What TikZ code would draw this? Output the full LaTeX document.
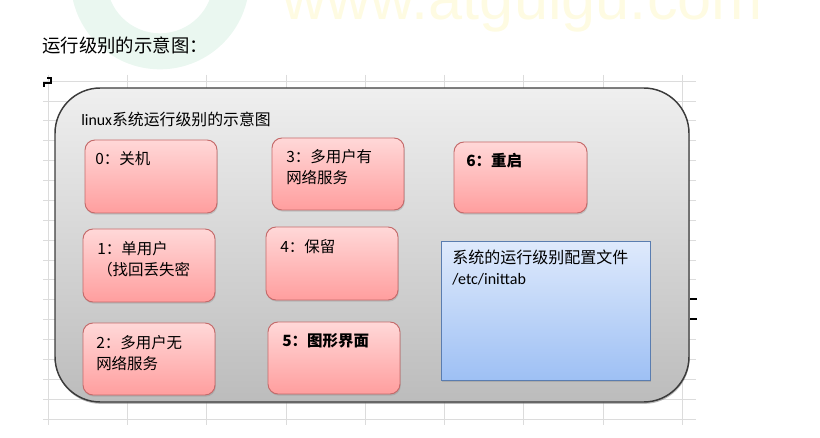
\documentclass[tikz,border=0pt]{standalone}
\usepackage{fontspec}
\setmainfont{Carlito}
\newfontfamily\cjk{Noto Sans CJK SC}
\newfontfamily\wmfont{Liberation Sans}
\usetikzlibrary{shadows,fit}
\definecolor{gridc}{HTML}{DCDCDC}
\definecolor{outerTop}{HTML}{EFEFEF}
\definecolor{outerBot}{HTML}{BCBCBC}
\definecolor{outerLine}{HTML}{3C3C3C}
\definecolor{pinkTop}{HTML}{FFD8D8}
\definecolor{pinkBot}{HTML}{FF9E9E}
\definecolor{pinkLine}{HTML}{C46A6A}
\definecolor{blueTop}{HTML}{DFEAFC}
\definecolor{blueBot}{HTML}{9EC0F4}
\definecolor{blueLine}{HTML}{5A7DB0}
\definecolor{wmgreen}{HTML}{EAF7F0}
\definecolor{wmyellow}{HTML}{FEFBE2}
\tikzset{
  x=0.75pt, y=-0.75pt,
  outerbox/.style={draw=outerLine, line width=1.1pt, rounded corners=34pt,
    top color=outerTop, bottom color=outerBot, inner sep=0pt,
    drop shadow={shadow xshift=0.4pt, shadow yshift=-1.4pt, opacity=0.55}},
  pinkbox/.style={draw=pinkLine, line width=0.7pt, rounded corners=7.5pt,
    top color=pinkTop, bottom color=pinkBot, inner sep=0pt,
    drop shadow={shadow xshift=0.6pt, shadow yshift=-1.2pt, opacity=0.3}},
  bluebox/.style={draw=blueLine, line width=0.7pt,
    top color=blueTop, bottom color=blueBot, inner sep=0pt,
    drop shadow={shadow xshift=0.6pt, shadow yshift=-1.2pt, opacity=0.3}},
  boxtext/.style={anchor=north west, inner sep=0pt, align=left,
    font=\cjk\fontsize{11.6}{15.75}\selectfont},
  boldtext/.style={boxtext, font=\cjk\bfseries\fontsize{11.6}{15.75}\selectfont},
  gridline/.style={draw=gridc, line width=0.5pt},
  marker/.style={draw=black, line width=1.4pt}
}
\begin{document}
\begin{tikzpicture}
\useasboundingbox (0,0) rectangle (820,438);
% watermark
\fill[wmgreen, even odd rule] (160,-20) circle (67pt) (160,-20) circle (40pt);
\node[anchor=base west, inner sep=0pt, text=wmyellow, font=\wmfont\fontsize{46}{46}\selectfont] (wm) at (282,20) {www.atguigu.com};
% heading
\node[anchor=west, inner sep=0pt, font=\cjk\fontsize{13.8}{16}\selectfont] (head) at (42,45) {运行级别的示意图：};
% grid
\foreach \i in {0,...,17} { \draw[gridline] (43,81+\i*19.88) -- (696,81+\i*19.88); }
\foreach \i in {0,...,8} { \draw[gridline] (48+\i*79.3,75) -- (48+\i*79.3,425); }
% small marks
\draw[marker] (47,78) -- (51,78) -- (51,83) -- (44,83) -- (44,87);
\draw[marker] (690,299) -- (697,299);
\draw[marker] (690,319) -- (697,319);
% outer box
\node[outerbox, fit={(55,88) (689,402)}] (outer) {};
\node[anchor=west, inner sep=0pt, font=\fontsize{11.9}{13}\selectfont] (title) at (81,119) {linux{\cjk 系统运行级别的示意图}};
% pink boxes
\node[pinkbox, fit={(85,140) (217,213)}] (l0) {};
\node[pinkbox, fit={(83,229) (215,302)}] (l1) {};
\node[pinkbox, fit={(83,323) (215,395)}] (l2) {};
\node[pinkbox, fit={(272,138) (404,210)}] (l3) {};
\node[pinkbox, fit={(266,227) (398,300)}] (l4) {};
\node[pinkbox, fit={(268,322) (400,394)}] (l5) {};
\node[pinkbox, fit={(454,142) (587,213)}] (l6) {};
\node[bluebox, fit={(441,241) (650,380)}] (cfg) {};
% texts
\node[boxtext] (t0) at (95,151) {0：关机};
\node[boxtext] (t1) at (97,241) {1：单用户\\（找回丢失密};
\node[boxtext] (t2) at (96,335) {2：多用户无\\网络服务};
\node[boxtext] (t3) at (286,149) {3：多用户有\\网络服务};
\node[boxtext] (t4) at (280,239) {4：保留};
\node[boldtext] (t5) at (282,333) {5：图形界面};
\node[boldtext] (t6) at (466,153) {6：重启};
\node[anchor=north west, inner sep=0pt, align=left, font=\fontsize{12}{15.75}\selectfont] (tc) at (452,250) {{\cjk 系统的运行级别配置文件}\\/etc/inittab};
\end{tikzpicture}
\end{document}
